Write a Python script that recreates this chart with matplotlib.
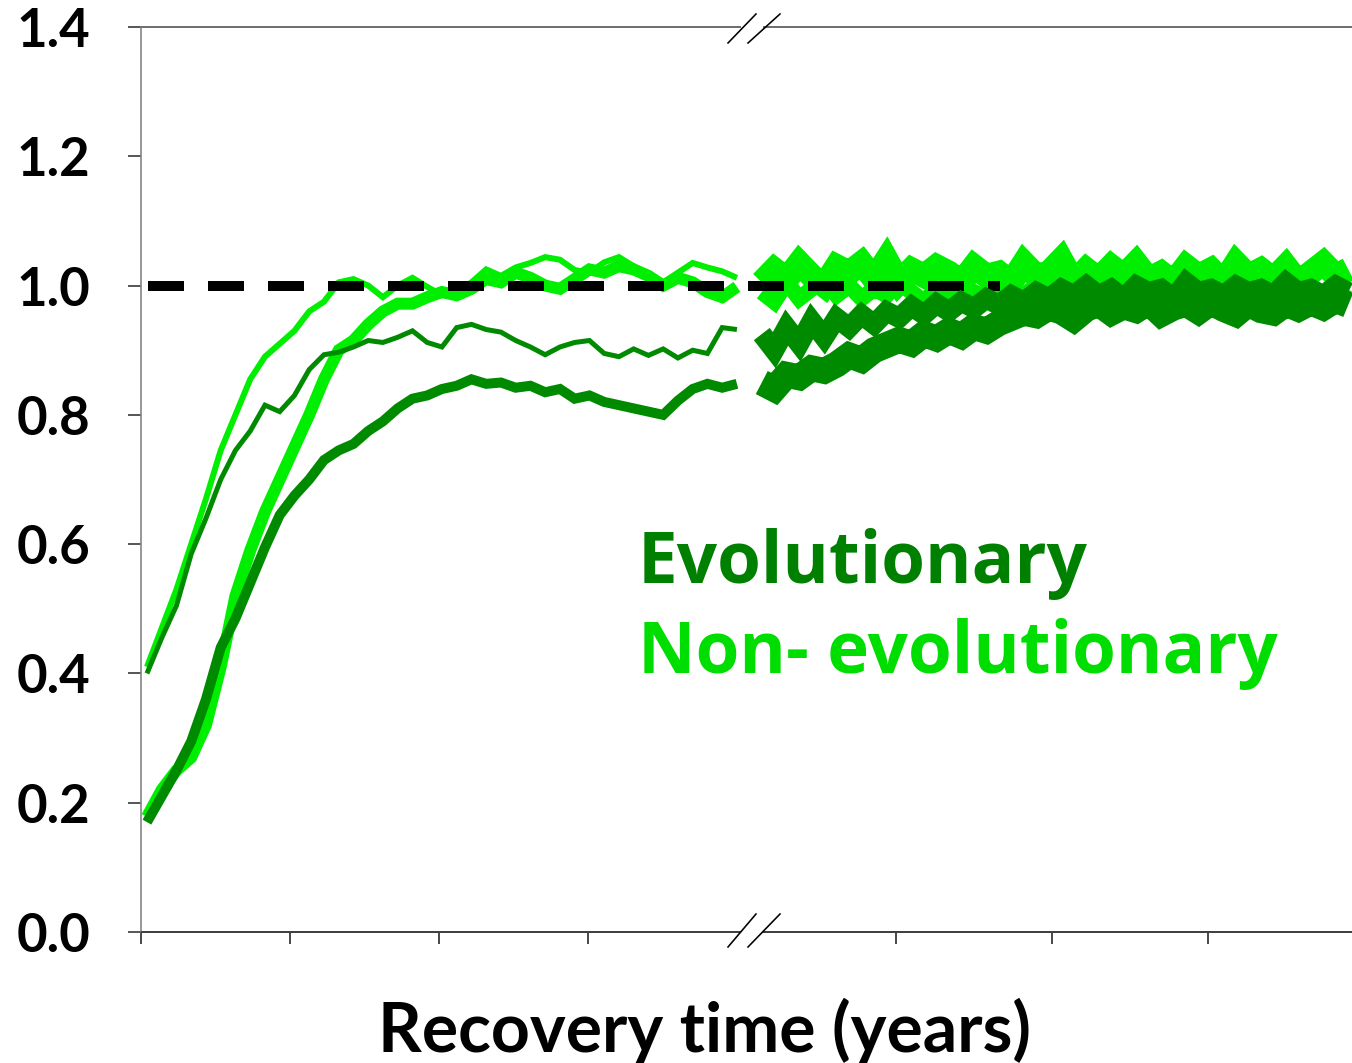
import numpy as np
import matplotlib
matplotlib.use("Agg")
import matplotlib.pyplot as plt

# ---------------- data ----------------
t_left = np.linspace(0.2, 20.0, 41)          # years, before the axis break
t_right = np.arange(35, 976, 20)              # years, after the axis break

nonevo_thin_left = [0.41, 0.47, 0.53, 0.60, 0.67, 0.745, 0.80, 0.855, 0.89, 0.91,
                    0.93, 0.96, 0.975, 1.005, 1.01, 1.0, 0.982, 1.0, 1.012, 0.998,
                    0.985, 0.99, 1.005, 1.025, 1.015, 1.028, 1.035, 1.044, 1.04, 1.024,
                    1.02, 1.036, 1.044, 1.03, 1.014, 1.005, 1.02, 1.035, 1.028, 1.022, 1.012]
evo_thin_left = [0.40, 0.455, 0.505, 0.585, 0.64, 0.70, 0.745, 0.775, 0.815, 0.805,
                 0.83, 0.87, 0.893, 0.897, 0.905, 0.915, 0.912, 0.92, 0.93, 0.912,
                 0.905, 0.935, 0.94, 0.932, 0.928, 0.915, 0.905, 0.893, 0.905, 0.912,
                 0.915, 0.895, 0.89, 0.902, 0.892, 0.902, 0.888, 0.90, 0.895, 0.935, 0.932]
nonevo_thick_left = [0.178, 0.22, 0.25, 0.27, 0.32, 0.41, 0.52, 0.59, 0.65, 0.70,
                     0.75, 0.80, 0.855, 0.90, 0.915, 0.94, 0.96, 0.972, 0.972, 0.982,
                     0.99, 0.985, 0.995, 1.01, 1.005, 1.02, 1.012, 1.0, 0.995, 1.01,
                     1.025, 1.02, 1.03, 1.025, 1.015, 1.0, 1.012, 1.005, 0.99, 0.982, 0.998]
evo_thick_left = [0.17, 0.21, 0.25, 0.295, 0.36, 0.44, 0.485, 0.54, 0.595, 0.645,
                  0.675, 0.70, 0.73, 0.745, 0.755, 0.775, 0.79, 0.81, 0.825, 0.83,
                  0.84, 0.845, 0.855, 0.848, 0.85, 0.842, 0.845, 0.835, 0.84, 0.825,
                  0.83, 0.82, 0.815, 0.81, 0.805, 0.80, 0.822, 0.84, 0.848, 0.842, 0.848]

evo_thick_right = [0.85, 0.84, 0.862, 0.858, 0.872, 0.868, 0.878, 0.892, 0.885, 0.9,
                   0.908, 0.916, 0.91, 0.925, 0.918, 0.93, 0.922, 0.936, 0.93, 0.942,
                   0.95, 0.958, 0.954, 0.966, 0.96, 0.948, 0.964, 0.972, 0.958, 0.968,
                   0.962, 0.974, 0.956, 0.966, 0.972, 0.96, 0.974, 0.964, 0.956, 0.972,
                   0.962, 0.958, 0.972, 0.964, 0.974, 0.966, 0.978, 0.97]
evo_thin_right = [0.925, 0.90, 0.935, 0.91, 0.945, 0.92, 0.95, 0.935, 0.955, 0.94,
                  0.96, 0.95, 0.968, 0.955, 0.972, 0.96, 0.975, 0.965, 0.98, 0.97,
                  0.985, 0.975, 0.99, 0.98, 0.995, 0.985, 1.0, 0.985, 0.995, 0.98,
                  1.0, 0.99, 0.995, 0.98, 1.005, 0.99, 0.995, 0.985, 1.0, 0.99,
                  0.995, 0.985, 1.005, 0.99, 0.995, 0.985, 1.0, 0.99]
nonevo_thick_right = [1.005, 1.025, 1.01, 1.035, 1.015, 1.0, 1.03, 1.02, 1.035, 1.01,
                      1.04, 1.005, 1.025, 1.015, 1.03, 1.02, 1.005, 1.03, 1.015, 1.02,
                      1.005, 1.035, 1.015, 1.02, 1.04, 1.005, 1.025, 1.01, 1.03, 1.015,
                      1.035, 1.01, 1.02, 1.005, 1.03, 1.015, 1.025, 1.005, 1.035, 1.015,
                      1.025, 1.01, 1.03, 1.005, 1.02, 1.035, 1.015, 1.025]
nonevo_thin_right = [0.99, 0.975, 1.005, 0.98, 0.995, 1.01, 0.985, 1.0, 0.98, 0.995,
                     0.985, 1.005, 0.99, 0.975, 0.995, 0.985, 1.0, 0.99, 0.98, 1.0,
                     0.99, 0.985, 1.0, 0.99, 0.995, 0.985, 1.005, 0.99, 0.98, 1.0,
                     0.985, 0.995, 0.98, 0.99, 0.975, 0.995, 0.985, 1.0, 0.99, 0.975,
                     0.99, 0.98, 0.995, 0.97, 0.985, 0.975, 0.99, 0.98]

reference_level = 1.0
reference_span = [0.23, 417]
x_ticks = [0, 5, 10, 15, 250, 500, 750]
y_ticks = [0.0, 0.2, 0.4, 0.6, 0.8, 1.0, 1.2, 1.4]
y_ticklabels = ["0.0", "0.2", "0.4", "0.6", "0.8", "1.0", "1.2", "1.4"]
label_evo = "Evolutionary"
label_nonevo = "Non- evolutionary"
x_label = "Recovery time (years)"

# ---------------- broken-axis scale ----------------
def fwd(t):
    t = np.asarray(t, dtype=float)
    return np.where(t <= 20.5, t,
                    np.where(t <= 35, 20.5 + (t - 20.5) * (0.334 / 14.5),
                             20.834 + (t - 35) * 0.02094))

def inv(p):
    p = np.asarray(p, dtype=float)
    return np.where(p <= 20.5, p,
                    np.where(p <= 20.834, 20.5 + (p - 20.5) * (14.5 / 0.334),
                             35 + (p - 20.834) / 0.02094))

LIGHT = "#00EE00"
DARK = "#008A00"
PX = 0.72  # points per pixel at dpi 100

fig = plt.figure(figsize=(13.52, 10.63), dpi=100)
ax = fig.add_axes([141 / 1352, 131 / 1063, 1211 / 1352, 905 / 1063])
ax.set_xscale("function", functions=(fwd, inv))
ax.set_xlim(0, 981)
ax.set_ylim(0, 1.4)

common = dict(solid_joinstyle="miter", solid_capstyle="butt")
# non-evolutionary (light)
ax.plot(t_left, nonevo_thick_left, color=LIGHT, lw=12 * PX, zorder=2, **common)
ax.plot(t_left, nonevo_thin_left, color=LIGHT, lw=6 * PX, zorder=2, **common)
ax.plot(t_right, nonevo_thick_right, color=LIGHT, lw=24 * PX, zorder=2, **common)
ax.plot(t_right, nonevo_thin_right, color=LIGHT, lw=16 * PX, zorder=2, **common)
# reference dashed line
ax.plot(reference_span, [reference_level, reference_level], color="black",
        lw=10 * PX, dashes=(3.6, 2.4), dash_capstyle="butt", zorder=3)
# evolutionary (dark)
ax.plot(t_left, evo_thick_left, color=DARK, lw=10 * PX, zorder=4, **common)
ax.plot(t_left, evo_thin_left, color=DARK, lw=5 * PX, zorder=4, **common)
ax.plot(t_right, evo_thick_right, color=DARK, lw=26 * PX, zorder=4, **common)
ax.plot(t_right, evo_thin_right, color=DARK, lw=20 * PX, zorder=4, **common)

# spines
for s in ("top", "bottom", "right"):
    ax.spines[s].set_visible(False)
ax.spines["left"].set_color("#808080")
ax.spines["left"].set_linewidth(1.6 * PX)
g0, g1 = (741 - 141) / 1211, (763 - 141) / 1211
for y, c in ((0, "#404040"), (1, "#707070")):
    ax.plot([0, g0], [y, y], transform=ax.transAxes, clip_on=False,
            color=c, lw=2 * PX, solid_capstyle="butt", zorder=5)
    ax.plot([g1, 1], [y, y], transform=ax.transAxes, clip_on=False,
            color=c, lw=2 * PX, solid_capstyle="butt", zorder=5)

def fx(px):
    return (px - 141) / 1211

def fy(py):
    return (932 - py) / 905

for (ya, yb) in ((947, 914), (43, 14)):
    for (xa, xb) in ((728, 756), (748, 780)):
        ax.plot([fx(xa), fx(xb)], [fy(ya), fy(yb)], transform=ax.transAxes,
                clip_on=False, color="black", lw=1.6 * PX, zorder=6)

# ticks
ax.set_xticks(x_ticks)
ax.set_xticklabels([""] * len(x_ticks))
ax.xaxis.set_minor_locator(matplotlib.ticker.NullLocator())
ax.tick_params(axis="x", direction="out", length=12 * PX, width=1.6 * PX, color="#202020")
ax.set_yticks(y_ticks)
ax.set_yticklabels(y_ticklabels, fontfamily="Lato", fontweight="bold", fontsize=38)
ax.tick_params(axis="y", direction="out", length=13 * PX, width=1.6 * PX,
               color="#303030", pad=27)

# texts
fig.text(638 / 1352, (1063 - 583) / 1063, label_evo, color="#008000",
         fontfamily="Open Sans", fontweight="bold", fontsize=51, ha="left", va="baseline")
fig.text(638 / 1352, (1063 - 673) / 1063, label_nonevo, color="#00DD00",
         fontfamily="Open Sans", fontweight="bold", fontsize=51, ha="left", va="baseline")
fig.text(705 / 1352, (1063 - 1052) / 1063, x_label, color="black",
         fontfamily="Lato", fontweight="bold", fontsize=49, ha="center", va="baseline")

fig.savefig("out.png", dpi=100)
